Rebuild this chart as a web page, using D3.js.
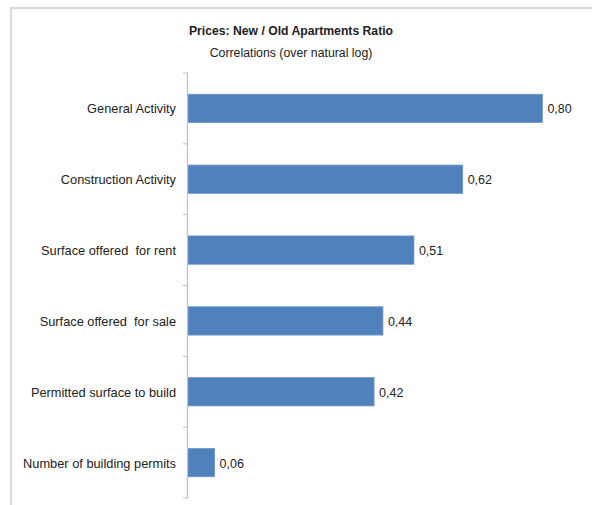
<!DOCTYPE html>
<html><head><meta charset="utf-8">
<script src="https://cdn.jsdelivr.net/npm/d3@7"></script>
<style>body{margin:0;background:#fff}svg{display:block}text{font-family:"Liberation Sans",Arial,sans-serif;fill:#222}</style>
</head><body>
<script>
const categories = ["General Activity","Construction Activity","Surface offered  for rent","Surface offered  for sale","Permitted surface to build","Number of building permits"];
const values = [0.80, 0.62, 0.51, 0.44, 0.42, 0.06];
const valueLabels = ["0,80","0,62","0,51","0,44","0,42","0,06"];
const title = "Prices: New / Old Apartments Ratio";
const subtitle = "Correlations (over natural log)";

(function(){
const W = 592, H = 505;
const svg = d3.select("body").append("svg").attr("width", W).attr("height", H);

// chart frame
svg.append("path").attr("d", `M11,${H} V8 H${W}`).attr("fill","none").attr("stroke","#d9d9d9").attr("stroke-width",2);

svg.append("text").attr("x", 291).attr("y", 35).attr("text-anchor","middle")
  .attr("font-size", 12.2).attr("font-weight","bold").text(title);
svg.append("text").attr("x", 291).attr("y", 57).attr("text-anchor","middle")
  .attr("font-size", 12.3).text(subtitle);

const x0 = 188;
const axTop = 73, axBottom = 498;
const x = d3.scaleLinear().domain([0, 1]).range([x0, x0 + 443]);
const y = d3.scaleBand().domain(categories).range([axTop, axBottom]).paddingInner(0.6).paddingOuter(0.3);

const g = svg.append("g");
g.selectAll("rect.bar").data(values).join("rect").attr("class","bar")
  .attr("x", x(0)).attr("y", (d,i) => y(categories[i]))
  .attr("width", d => x(d) - x(0)).attr("height", y.bandwidth())
  .attr("fill", "#4f81bd").attr("stroke","#6f97cc").attr("stroke-width",0.8);

g.selectAll("text.val").data(values).join("text").attr("class","val")
  .attr("x", d => x(d) + 5).attr("y", (d,i) => y(categories[i]) + y.bandwidth()/2 + 5)
  .attr("font-size", 12.5).text((d,i) => valueLabels[i]);

// axis
svg.append("line").attr("x1", x0 - 0.5).attr("x2", x0 - 0.5).attr("y1", axTop).attr("y2", axBottom)
  .attr("stroke","#bfbfbf").attr("stroke-width",1.2);
const tickYs = d3.range(categories.length + 1).map(i => axTop + i * (axBottom - axTop) / categories.length);
svg.selectAll("line.tick").data(tickYs).join("line").attr("class","tick")
  .attr("x1", x0 - 5).attr("x2", x0).attr("y1", d => d).attr("y2", d => d)
  .attr("stroke","#bfbfbf").attr("stroke-width",1);

svg.selectAll("text.cat").data(categories).join("text").attr("class","cat")
  .attr("x", 176).attr("y", d => y(d) + y.bandwidth()/2 + 5)
  .attr("text-anchor","end").attr("font-size", 12.8).attr("xml:space","preserve").text(d => d);
})();
</script>
</body></html>
